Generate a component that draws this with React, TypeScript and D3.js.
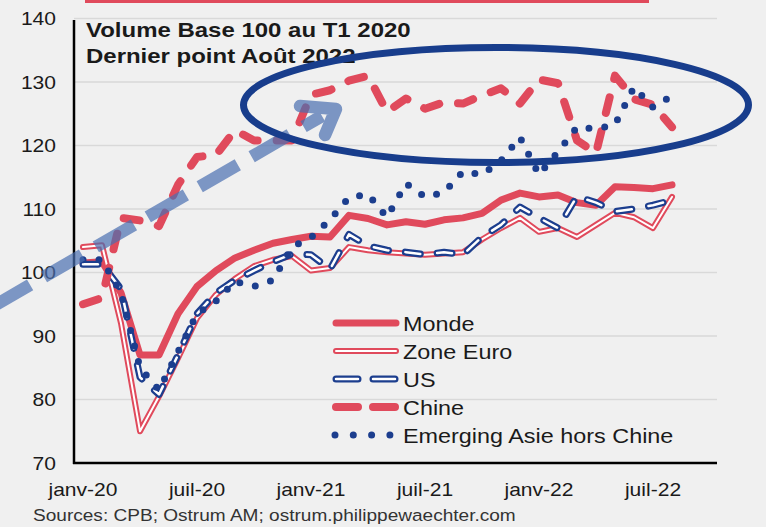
import React from "react";
import * as d3 from "d3";

// monthly categories, Jan 2020 -> Aug 2022
const months = [
  "janv-20", "févr-20", "mars-20", "avr-20", "mai-20", "juin-20", "juil-20", "août-20", "sept-20", "oct-20", "nov-20", "déc-20",
  "janv-21", "févr-21", "mars-21", "avr-21", "mai-21", "juin-21", "juil-21", "août-21", "sept-21", "oct-21", "nov-21", "déc-21",
  "janv-22", "févr-22", "mars-22", "avr-22", "mai-22", "juin-22", "juil-22", "août-22",
];

const monde = [101.5, 101.7, 96.8, 87, 87, 93.5, 97.8, 100.3, 102.3, 103.5, 104.6, 105.2, 105.7, 105.6, 109, 108.5,
  107.5, 108, 107.6, 108.3, 108.6, 109.3, 111.4, 112.5, 111.9, 112.2, 111, 110.6, 113.5, 113.4, 113.2, 113.8];
const zoneEuro = [104, 104.3, 92, 75, 80.5, 86.5, 92.8, 96.5, 99, 101, 102, 102.6, 100.3, 100.7, 104, 103.5,
  103.2, 103, 102.8, 103, 103.2, 105.2, 107, 108.6, 106.4, 107, 105.6, 107.5, 109.4, 108.7, 107, 111.9];
const us = [101.3, 101.3, 97.4, 83.5, 80.8, 87, 93.5, 96.8, 98.8, 100.3, 101.7, 102.9, 102.8, 100.5, 106, 104.2,
  103.5, 103.2, 102.8, 103.2, 102.8, 105.6, 107.5, 110.3, 108.6, 107, 112, 111, 109.6, 110, 110.6, 111.4];
const chine = [95, 96, 108.6, 108.2, 107.3, 113.8, 118.2, 118.5, 122.4, 120.8, 120.8, 120.8, 128, 128.7, 130.2, 131,
  125.3, 127.4, 125.8, 126.8, 126.6, 127.9, 129, 126.6, 130.4, 129.8, 120.8, 118.8, 131, 127.3, 126.4, 122.9];
const asie = [102, 102, 96.8, 85, 81.5, 87.5, 93.5, 95.5, 98.6, 97.8, 98.8, 104, 105.5, 108.3, 111.8, 112.3,
  108.7, 114, 111.9, 112.6, 115.9, 115.4, 117.6, 121.3, 115.4, 119, 122.9, 122.6, 123.3, 129.2, 126, 127.8];

const yTicks = [70, 80, 90, 100, 110, 120, 130, 140];
const seriesNames = ["Monde", "Zone Euro", "US", "Chine", "Emerging Asie hors Chine"];

const RED = "#e04a5c";
const NAVY = "#1c3e8e";
const SX = 1.17; // text in the picture is a bit wide

const T = ({ x, y, size, anchor = "start", weight = "normal", fill = "#1a1a1a", children }: any) => (
  <g transform={`translate(${x},${y})`}>
    <text transform={`scale(${SX},1)`} fontSize={size} fontWeight={weight} textAnchor={anchor}
      fill={fill} fontFamily="'Liberation Sans', Arial, sans-serif">{children}</text>
  </g>
);

export default function App() {
  const x = d3.scalePoint<string>().domain(months).range([83, 672]);
  const y = d3.scaleLinear().domain([70, 140]).range([463, 18.5]);
  const line = d3.line<number>().x((d, i) => x(months[i]) as number).y(d => y(d));

  const left = 74, right = 717;

  // one entry per layer: [strokes...]
  const styles: any = {
    "Monde": [{ stroke: RED, w: 7 }],
    "Zone Euro": [{ stroke: RED, w: 6 }, { stroke: "#fff", w: 2 }],
    "US": [{ stroke: NAVY, w: 7, dash: "15 17" }, { stroke: "#fff", w: 2.5, dash: "15 17" }],
    "Chine": [{ stroke: RED, w: 8, dash: "16 19" }],
    "Emerging Asie hors Chine": [{ stroke: NAVY, w: 7, dash: "0 16" }],
  };
  const legendDash: any = { "US": "22 15", "Chine": "22 15", "Emerging Asie hors Chine": "0 18.3" };
  const values: any = { "Monde": monde, "Zone Euro": zoneEuro, "US": us, "Chine": chine, "Emerging Asie hors Chine": asie };
  const ly = d3.scalePoint<string>().domain(seriesNames).range([323, 435]);

  return (
    <svg width={766} height={527} style={{ position: "absolute", left: 0, top: 0 }}>
      <rect width={766} height={527} fill="#f0f0f0" />
      <line x1={85} x2={649} y1={1.5} y2={1.5} stroke={RED} strokeWidth={3} />

      {yTicks.map(t => (
        <g key={t}>
          {t > 70 && <line x1={left} x2={right} y1={y(t)} y2={y(t)} stroke="#d9d9d9" strokeWidth={1.5} />}
          <T x={56} y={y(t) + 6.5} size={18} anchor="end">{t}</T>
        </g>
      ))}

      {seriesNames.map(name => (
        <g key={name}>
          {styles[name].map((s: any, k: number) => (
            <path key={k} d={line(values[name]) as string} fill="none" stroke={s.stroke} strokeWidth={s.w}
              strokeDasharray={s.dash} strokeLinecap="round" strokeLinejoin="round" />
          ))}
        </g>
      ))}

      <line x1={left} x2={left} y1={20} y2={464} stroke="#000" strokeWidth={2.5} />
      <line x1={73} x2={right} y1={463} y2={463} stroke="#000" strokeWidth={2.5} />

      {months.map((m, i) => i % 6 === 0 && (
        <T key={m} x={x(m)} y={496} size={18} anchor="middle">{m}</T>
      ))}

      {seriesNames.map(name => (
        <g key={name}>
          {styles[name].map((s: any, k: number) => (
            <line key={k} x1={name === "Emerging Asie hors Chine" ? 335 : 336} x2={name === "Emerging Asie hors Chine" ? 391 : 396}
              y1={ly(name)} y2={ly(name)} stroke={s.stroke} strokeWidth={s.w}
              strokeDasharray={s.dash ? legendDash[name] : undefined} strokeLinecap="round" />
          ))}
          <T x={403} y={(ly(name) as number) + 7.5} size={20}>{name}</T>
        </g>
      ))}

      <T x={86} y={37} size={20.5} weight="bold">Volume Base 100 au T1 2020</T>
      <T x={86} y={63} size={20.5} weight="bold">Dernier point Août 2022</T>

      <T x={33} y={521} size={16.3} fill="#333">Sources: CPB; Ostrum  AM; ostrum.philippewaechter.com</T>

      {/* annotations */}
      <g opacity={0.7} stroke="rgb(74,111,176)" fill="none" strokeWidth={12.5}>
        <line x1={-8} y1={307} x2={322} y2={116} strokeDasharray="44 16" />
        <polyline points="300,106 336,109 325,135" strokeLinejoin="round" strokeLinecap="round" />
      </g>
      <ellipse cx={496} cy={105} rx={252.5} ry={57.5} fill="none" stroke="#183d8c" strokeWidth={7} />
    </svg>
  );
}
